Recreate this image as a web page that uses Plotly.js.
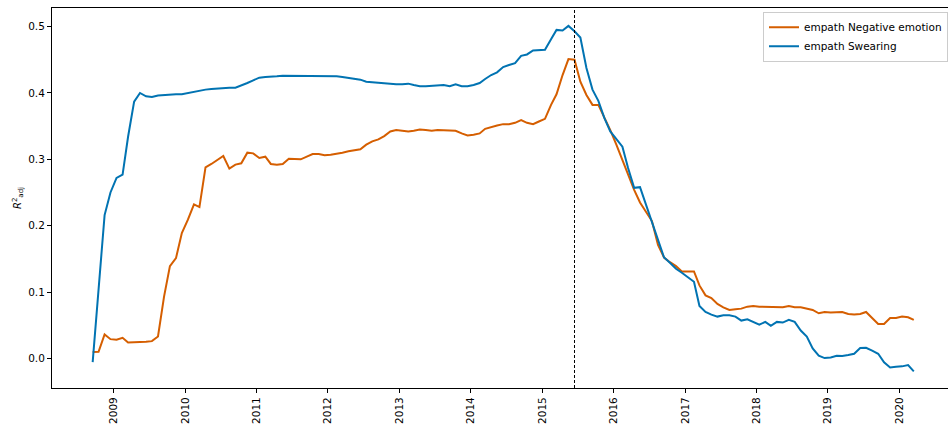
<!DOCTYPE html>
<html>
<head>
<meta charset="utf-8">
<script src="https://cdn.plot.ly/plotly-3.0.1.min.js"></script>
<style>
  html, body { margin: 0; padding: 0; overflow: hidden; background: #fff; }
  #chart { width: 948px; height: 426px; }
</style>
</head>
<body>
<div id="chart"></div>
<script>
// Monthly series, first month 2008-09, one value per month
const startYear = 2008;
const startMonth = 9;
const seriesNames = ["empath Negative emotion", "empath Swearing"];
const negativeEmotion = [
  0.0095, 0.010, 0.036, 0.029, 0.028, 0.031, 0.024, 0.024, 0.025, 0.025,
  0.026, 0.033, 0.093, 0.139, 0.151, 0.189, 0.209, 0.232, 0.228, 0.288,
  0.293, 0.299, 0.305, 0.286, 0.292, 0.294, 0.310, 0.309, 0.302, 0.304,
  0.293, 0.292, 0.293, 0.301, 0.300, 0.300, 0.304, 0.308, 0.308, 0.306,
  0.307, 0.308, 0.310, 0.312, 0.314, 0.315, 0.322, 0.327, 0.330, 0.335,
  0.342, 0.344, 0.343, 0.342, 0.343, 0.345, 0.344, 0.343, 0.344, 0.344,
  0.344, 0.343, 0.339, 0.336, 0.337, 0.339, 0.346, 0.349, 0.351, 0.353,
  0.353, 0.355, 0.359, 0.355, 0.353, 0.357, 0.361, 0.382, 0.398, 0.427,
  0.451, 0.450, 0.417, 0.397, 0.382, 0.382, 0.363, 0.344, 0.322, 0.299,
  0.277, 0.254, 0.235, 0.220, 0.207, 0.171, 0.152, 0.145, 0.139, 0.131,
  0.131, 0.131, 0.110, 0.095, 0.091, 0.082, 0.077, 0.073, 0.074, 0.075,
  0.078, 0.079, 0.078, 0.078, 0.077, 0.077, 0.077, 0.079, 0.077, 0.077,
  0.075, 0.073, 0.068, 0.070, 0.069, 0.069, 0.070, 0.067, 0.066, 0.067,
  0.070, 0.061, 0.052, 0.052, 0.061, 0.061, 0.063, 0.062, 0.058
];
const swearing = [
  -0.0055, 0.105, 0.216, 0.250, 0.272, 0.277, 0.334, 0.387, 0.400, 0.395,
  0.394, 0.396, 0.397, 0.397, 0.398, 0.398, 0.400, 0.402, 0.404, 0.405,
  0.406, 0.407, 0.408, 0.408, 0.408, 0.411, 0.415, 0.419, 0.423, 0.424,
  0.425, 0.425, 0.426, 0.426, 0.426, 0.426, 0.426, 0.426, 0.426, 0.426,
  0.425, 0.425, 0.424, 0.423, 0.422, 0.420, 0.417, 0.416, 0.415, 0.414,
  0.414, 0.413, 0.413, 0.414, 0.412, 0.410, 0.410, 0.411, 0.412, 0.412,
  0.410, 0.413, 0.410, 0.410, 0.412, 0.415, 0.421, 0.427, 0.431, 0.439,
  0.442, 0.445, 0.456, 0.458, 0.464, 0.465, 0.465, 0.481, 0.495, 0.494,
  0.501, 0.493, 0.4835, 0.4375, 0.405, 0.388, 0.362, 0.342, 0.330, 0.319,
  0.287, 0.257, 0.258, 0.231, 0.206, 0.176, 0.152, 0.144, 0.135, 0.129,
  0.122, 0.1155, 0.079, 0.070, 0.066, 0.063, 0.065, 0.065, 0.063, 0.057,
  0.059, 0.055, 0.051, 0.055, 0.049, 0.055, 0.054, 0.058, 0.055, 0.042,
  0.033, 0.015, 0.004, 0.0005, 0.0015, 0.004, 0.0035, 0.005, 0.007, 0.0156,
  0.016, 0.0116, 0.007, -0.006, -0.0136, -0.0126, -0.012, -0.010, -0.0195
];
const eventDate = "2015-06-15";
const yTicks = [0.0, 0.1, 0.2, 0.3, 0.4, 0.5];

function monthDates(n) {
  const out = [];
  for (let i = 0; i < n; i++) {
    const m0 = startMonth - 1 + i;
    const y = startYear + Math.floor(m0 / 12);
    const m = (m0 % 12) + 1;
    out.push(y + "-" + String(m).padStart(2, "0") + "-15");
  }
  return out;
}
const dates = monthDates(negativeEmotion.length);

const font = "DejaVu Sans, sans-serif";
const traces = [
  { x: dates, y: negativeEmotion, name: seriesNames[0], type: "scatter", mode: "lines",
    line: { color: "#d55e00", width: 2 } },
  { x: dates, y: swearing, name: seriesNames[1], type: "scatter", mode: "lines",
    line: { color: "#0173b2", width: 2 } }
];

const layout = {
  width: 948, height: 426,
  margin: { l: 52, r: 0, t: 8, b: 38, autoexpand: false },
  paper_bgcolor: "#fff", plot_bgcolor: "#fff",
  font: { family: font, size: 11, color: "#000" },
  showlegend: true,
  legend: {
    x: 1, y: 0.99, xanchor: "right", yanchor: "top",
    bgcolor: "rgba(255,255,255,0.8)", bordercolor: "#cccccc", borderwidth: 1,
    font: { family: font, size: 10.5, color: "#000" },
    itemwidth: 30, tracegroupgap: 0
  },
  xaxis: {
    type: "date", automargin: false,
    range: ["2008-02-20", "2020-09-06"],
    tickmode: "linear", tick0: "2009-01-01", dtick: "M12", tickformat: "%Y",
    tickangle: -90, ticks: "outside", ticklen: 4, tickwidth: 1, tickcolor: "#000",
    showgrid: false, zeroline: false,
    showline: true, mirror: true, linecolor: "#000", linewidth: 1,
    tickfont: { family: font, size: 10.5, color: "#000" }
  },
  yaxis: {
    automargin: false,
    range: [-0.0446, 0.528],
    tickmode: "array", tickvals: yTicks, tickformat: ".1f",
    ticks: "outside", ticklen: 4, tickwidth: 1, tickcolor: "#000",
    showgrid: false, zeroline: false,
    showline: true, mirror: false, linecolor: "#000", linewidth: 1,
    tickfont: { family: font, size: 10.5, color: "#000" },
    title: { text: "<i>R</i><sup>2</sup><sub>adj</sub>", font: { family: font, size: 10, color: "#000" }, standoff: 4 }
  },
  shapes: [
    { type: "line", xref: "x", yref: "paper", x0: eventDate, x1: eventDate, y0: 0, y1: 1,
      line: { color: "#000", width: 1, dash: "3px,2px" } }
  ]
};

Plotly.newPlot("chart", traces, layout, { displayModeBar: false, staticPlot: true });
</script>
</body>
</html>
